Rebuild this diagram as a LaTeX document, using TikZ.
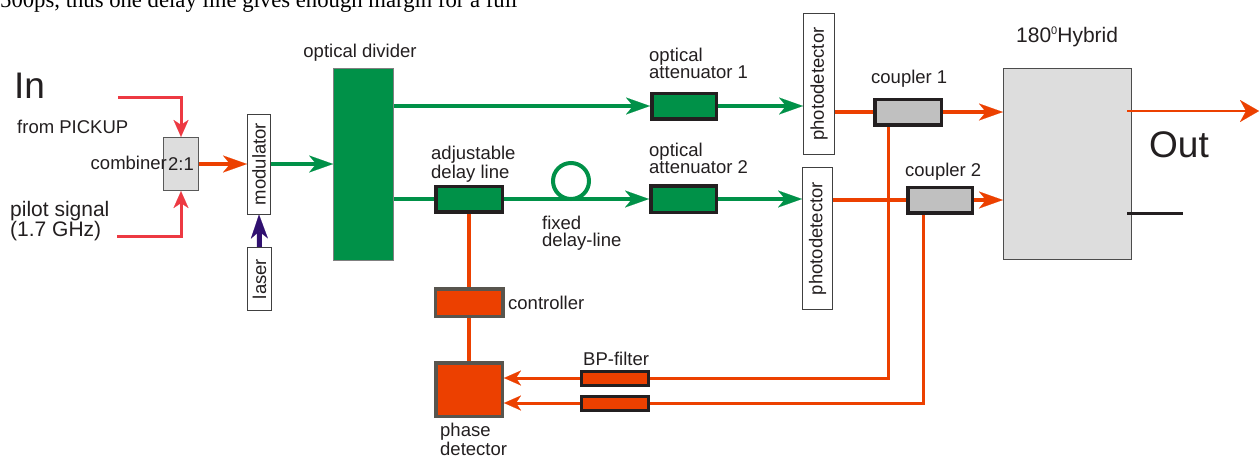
\documentclass[tikz,border=0pt]{standalone}
\usepackage{fontspec}
\setmainfont{Liberation Sans}
\newfontfamily\serifface{Liberation Serif}
\usetikzlibrary{arrows.meta,backgrounds}
\definecolor{cgreen}{RGB}{0,145,72}
\definecolor{corange}{RGB}{236,64,0}
\definecolor{cred}{RGB}{237,57,66}
\definecolor{cpurple}{RGB}{48,16,112}
\definecolor{clight}{RGB}{221,221,221}
\definecolor{cgray}{RGB}{192,192,192}
\definecolor{cdark}{RGB}{35,31,32}
\definecolor{cbrown}{RGB}{88,85,78}
\definecolor{ctext}{RGB}{35,31,32}
\newcommand\fsmall{\fontsize{18.5}{17}\selectfont}
\newcommand\fmid{\fontsize{21}{20}\selectfont}
\newcommand\fbig{\fontsize{37}{40}\selectfont}
\newcommand\ftopline{\serifface\fontsize{22.7}{26}\selectfont}
\tikzset{
  txt/.style={inner sep=0pt, text=ctext, font=\fsmall, align=left},
  sz/.style 2 args={minimum width=#1pt, minimum height=#2pt},
  thinbox/.style={draw=black!75, line width=1pt, fill=white, inner sep=0pt, text=ctext, font=\fsmall},
  optbox/.style={draw=cdark, line width=3.5pt, fill=cgreen, inner sep=0pt},
  cplbox/.style={draw=cdark, line width=3.5pt, fill=cgray, inner sep=0pt},
  ctlbox/.style={draw=cbrown, line width=3.5pt, fill=corange, inner sep=0pt},
  bpbox/.style={draw=cdark, line width=3pt, fill=corange, inner sep=0pt},
  graybox/.style={draw=black!65, line width=1.2pt, fill=clight, inner sep=0pt, text=ctext, font=\fsmall},
  gline/.style={draw=cgreen, line width=4.5pt},
  oline/.style={draw=corange, line width=4pt},
  othin/.style={draw=corange, line width=3pt},
  rline/.style={draw=cred, line width=3pt},
  tipA/.style={-{Stealth[length=24pt,width=17pt,inset=7pt,line width=0.1pt]}},
  tipB/.style={-{Stealth[length=17pt,width=15pt,inset=5pt,line width=0.1pt]}},
  tipC/.style={-{Stealth[length=19pt,width=22pt,inset=6pt,line width=0.1pt]}},
}
\begin{document}
\begin{tikzpicture}[x=1pt,y=-1pt]
\useasboundingbox (0,0) rectangle (1259,456);
\begin{scope}
\clip (0,0) rectangle (1259,456);
\node[inner sep=0pt, font=\ftopline, anchor=base west] (toptext) at (0,7.5) {500ps, thus one delay line gives enough margin for a full};
\end{scope}
% blocks
\node[graybox, sz={35}{53}] (comb) at (181,164) {2:1};
\node[thinbox, sz={23}{100}] (mod) at (259,164) {\rotatebox{90}{modulator}};
\node[thinbox, sz={24}{63}] (laser) at (259.5,279) {\rotatebox{90}{laser}};
\node[draw=black!50, line width=0.8pt, fill=cgreen, inner sep=0pt, sz={60}{192}] (div) at (363.5,164) {};
\node[optbox, sz={64.5}{25.5}] (att1) at (684,106) {};
\node[optbox, sz={66.5}{25.5}] (adl) at (469,199) {};
\node[optbox, sz={65.5}{26.5}] (att2) at (683.5,199) {};
\node[thinbox, sz={31}{141}] (pd1) at (819,84) {\rotatebox{90}{photodetector}};
\node[thinbox, sz={30}{142}] (pd2) at (817.5,238.5) {\rotatebox{90}{photodetector}};
\node[cplbox, sz={66.5}{25.5}] (c1) at (908,112) {};
\node[cplbox, sz={64.5}{25.5}] (c2) at (940,200) {};
\node[draw=black!70, line width=1.2pt, fill=clight, inner sep=0pt, sz={128}{191}] (hyb) at (1067.5,164) {};
\node[ctlbox, sz={67.5}{27.5}] (ctrl) at (469,302.5) {};
\node[ctlbox, sz={66.5}{53.5}] (pdet) at (469,389.5) {};
\node[bpbox, sz={67}{14}] (bp1) at (615,378) {};
\node[bpbox, sz={67}{14}] (bp2) at (615,403) {};
% free ends
\coordinate (pk) at (118,97);
\coordinate (pl) at (117,236);
\coordinate (loop) at (571,181);
\coordinate (v1) at (888,378);
\coordinate (v2) at (923,403);
\coordinate (o1) at (1127,111);
\coordinate (o2) at (1259,111);
\coordinate (b1) at (1127,213);
\coordinate (b2) at (1183,213);
% connectors
\begin{pgfonlayer}{background}
\fill[white] (0,0) rectangle (1259,456);
\draw[rline,tipB] (pk) -| (comb.north);
\draw[rline,tipB] (pl) -| (comb.south);
\draw[oline,tipA] (comb.east) -- (mod.west);
\draw[draw=cpurple,line width=5pt,tipA] (laser.north) -- (mod.south);
\draw[gline,tipA] (mod.east) -- (div.west);
\draw[gline,tipA] (div.east |- att1.west) -- (att1.west);
\draw[gline,tipA] (att1.east) -- (att1.east -| pd1.west);
\draw[gline] (div.east |- adl.west) -- (adl.west);
\draw[gline,tipA] (adl.east) -- (att2.west);
\draw[draw=cgreen,line width=4pt] (loop) circle[radius=18pt];
\draw[gline,tipA] (att2.east) -- (att2.east -| pd2.west);
\draw[oline] (pd1.east |- c1.west) -- (c1.west);
\draw[oline,tipA] (c1.east) -- (c1.east -| hyb.west);
\draw[oline] (pd2.east |- c2.west) -- (c2.west);
\draw[oline,tipA] (c2.east) -- (c2.east -| hyb.west);
\draw[othin] (v1 |- c1.south) -- (v1) -- (bp1.east);
\draw[othin] (v2 |- c2.south) -- (v2) -- (bp2.east);
\draw[othin,tipB] (bp1.west) -- (bp1.west -| pdet.east);
\draw[othin,tipB] (bp2.west) -- (bp2.west -| pdet.east);
\draw[oline] (adl.south) -- (ctrl.north);
\draw[oline] (ctrl.south) -- (pdet.north);
\end{pgfonlayer}
\draw[draw=corange,line width=2.5pt,tipC] (o1) -- (o2);
\draw[draw=cdark,line width=3pt] (b1) -- (b2);
% labels
\node[txt,font=\fbig,anchor=base west] (lin) at (14,98) {In};
\node[txt,anchor=base west] (lpick) at (17,133) {from PICKUP};
\node[txt,anchor=base east] (lcomb) at (167,169) {combiner};
\node[txt,font=\fmid,anchor=base west] (lpilot) at (10,236) {pilot signal\\(1.7 GHz)};
\node[txt,anchor=base] (ldiv) at (360,57) {optical divider};
\node[txt,anchor=base west] (latt1) at (649,78) {optical\\attenuator 1};
\node[txt,anchor=base west] (latt2) at (649,173) {optical\\attenuator 2};
\node[txt,anchor=base west] (ladl) at (431,178) {adjustable\\delay line};
\node[txt,anchor=base west] (lfix) at (542,246) {fixed\\delay-line};
\node[txt,anchor=base west] (lctrl) at (508,309) {controller};
\node[txt,anchor=base west] (lbp) at (583,365) {BP-filter};
\node[txt,anchor=base west] (lpdet) at (440,455) {phase\\detector};
\node[txt,anchor=base west] (lc1) at (871,83) {coupler 1};
\node[txt,anchor=base west] (lc2) at (905,176) {coupler 2};
\node[txt,font=\fmid,anchor=base west] (lhyb) at (1016,42) {180\raisebox{8pt}{\fontsize{11}{11}\selectfont 0}Hybrid};
\node[txt,font=\fbig,anchor=base west] (lout) at (1149,157) {Out};
\end{tikzpicture}
\end{document}
